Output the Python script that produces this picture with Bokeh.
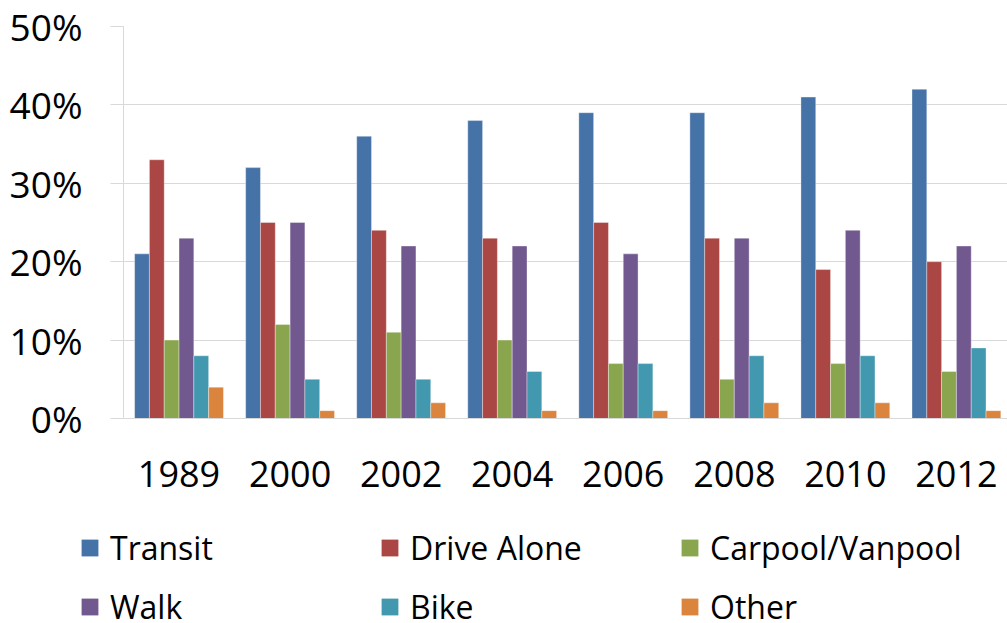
from bokeh.plotting import figure
from bokeh.models import Range1d, FixedTicker, NumeralTickFormatter, Legend, LegendItem, ColumnDataSource
from bokeh.embed import file_html
from bokeh.resources import INLINE

years = ["1989", "2000", "2002", "2004", "2006", "2008", "2010", "2012"]
series = ["Transit", "Drive Alone", "Carpool/Vanpool", "Walk", "Bike", "Other"]
transit = [21, 32, 36, 38, 39, 39, 41, 42]
drive_alone = [33, 25, 24, 23, 25, 23, 19, 20]
carpool = [10, 12, 11, 10, 7, 5, 7, 6]
walk = [23, 25, 22, 22, 21, 23, 24, 22]
bike = [8, 5, 5, 6, 7, 8, 8, 9]
other = [4, 1, 2, 1, 1, 2, 2, 1]
colors = ["#4572A7", "#AA4643", "#89A54E", "#71588F", "#4198AF", "#DB843D"]
values = [transit, drive_alone, carpool, walk, bike, other]

FONT = "Open Sans"
W = 1007
H_MAIN = 510
H_LEG = 113

p = figure(width=W, height=H_MAIN, output_backend="svg", toolbar_location=None,
           x_range=Range1d(0, 7.96), y_range=Range1d(0, 0.5),
           min_border_left=123, min_border_right=0, min_border_top=26,
           min_border_bottom=H_MAIN - 418)
p.outline_line_color = None
p.background_fill_color = "white"
p.border_fill_color = "white"

bar_w = 0.8 / 6
for j, (name, vals, col) in enumerate(zip(series, values, colors)):
    xs = [i + 0.5 + (j - 2.5) * bar_w for i in range(len(years))]
    src = ColumnDataSource(dict(x=xs, top=[v / 100 for v in vals]))
    p.vbar(x="x", top="top", bottom=0, width=bar_w, source=src,
           fill_color=col, line_color="white", line_width=0.6, line_alpha=0.6)

p.xaxis.ticker = FixedTicker(ticks=[i + 0.5 for i in range(len(years))])
p.xaxis.major_label_overrides = {i + 0.5: y for i, y in enumerate(years)}
p.xaxis.major_tick_line_color = None
p.xaxis.minor_tick_line_color = None
p.xaxis.axis_line_color = "#D9D9D9"
p.xaxis.axis_line_width = 1
p.xaxis.major_label_standoff = 36
p.xaxis.major_label_text_font = FONT
p.xaxis.major_label_text_font_size = "36px"
p.xaxis.major_label_text_color = "black"

p.yaxis.ticker = FixedTicker(ticks=[0, 0.1, 0.2, 0.3, 0.4, 0.5])
p.yaxis.formatter = NumeralTickFormatter(format="0%")
p.yaxis.axis_line_color = "#D9D9D9"
p.yaxis.major_tick_line_color = "#D9D9D9"
p.yaxis.major_tick_out = 13
p.yaxis.major_tick_in = 0
p.yaxis.minor_tick_line_color = None
p.yaxis.major_label_standoff = 28
p.yaxis.major_label_text_font = FONT
p.yaxis.major_label_text_font_size = "37px"
p.yaxis.major_label_text_color = "black"

p.xgrid.grid_line_color = None
p.ygrid.grid_line_color = "#D9D9D9"
p.ygrid.grid_line_width = 1
p.ygrid.ticker = FixedTicker(ticks=[0.1, 0.2, 0.3, 0.4, 0.5])

# legend figure (separate root so its frame starts at the left edge)
q = figure(width=W, height=H_LEG, output_backend="svg", toolbar_location=None,
           x_range=Range1d(0, 1), y_range=Range1d(0, 1),
           x_axis_location=None, y_axis_location=None,
           min_border_left=0, min_border_right=0, min_border_top=0, min_border_bottom=0)
q.outline_line_color = None
q.xgrid.grid_line_color = None
q.ygrid.grid_line_color = None
items = []
for name, col in zip(series, colors):
    r = q.vbar(x=[-5], top=[-5], bottom=[-6], width=0.1, fill_color=col, line_color=None)
    items.append(LegendItem(label=name, renderers=[r]))

legend = Legend(items=items, orientation="horizontal", nrows=2,
                location=(79, -5.5), padding=0, margin=0, spacing=14,
                glyph_width=21, glyph_height=21, label_standoff=10,
                label_width=255, label_height=45,
                label_text_font=FONT, label_text_font_size="32px",
                label_text_color="black", label_text_baseline="middle",
                border_line_color=None, background_fill_alpha=0)
q.add_layout(legend, "center")

open("out.html", "w").write(file_html([p, q], INLINE))
